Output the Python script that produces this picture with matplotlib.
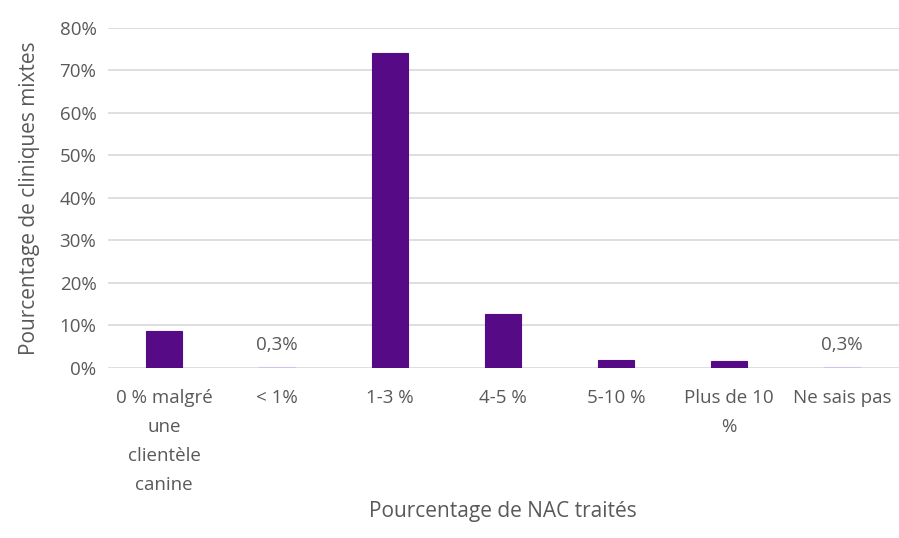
import numpy as np
import matplotlib.pyplot as plt
import matplotlib.ticker as mtick

# Data
categories = ["0 % malgré\nune\nclientèle\ncanine", "< 1%", "1-3 %", "4-5 %",
              "5-10 %", "Plus de 10\n%", "Ne sais pas"]
values = [0.086, 0.003, 0.742, 0.128, 0.018, 0.016, 0.003]
labelled = [False, True, False, False, False, False, True]

dark = "#560A86"
light = "#D3C2EC"
grey = "#595959"

plt.rcParams['font.family'] = ['Open Sans', 'DejaVu Sans']

fig = plt.figure(figsize=(8.99, 5.38), dpi=100)
ax = fig.add_axes([0.1196, 0.316, 0.88, 0.632])

x = np.arange(len(categories))
colors = [light if lab else dark for lab in labelled]
bars = ax.bar(x, values, width=0.32, color=colors, edgecolor=colors,
              linewidth=0.8, zorder=3)

for xi, v, lab in zip(x, values, labelled):
    if lab:
        ax.annotate(f"{v*100:.1f}%".replace(".", ","),
                    (xi, v), xytext=(0, 9), textcoords="offset points",
                    ha="center", va="bottom", fontsize=13.5, color=grey)

ax.set_xlim(-0.5, len(categories) - 0.5)
ax.set_ylim(0, 0.8)
ax.set_yticks(np.arange(0, 0.81, 0.1))
ax.yaxis.set_major_formatter(mtick.PercentFormatter(1.0, decimals=0))
ax.grid(axis="y", color="#D9D9D9", linewidth=1.2, zorder=0)

ax.set_xticks(x)
ax.set_xticklabels(categories, linespacing=1.8, va="top")
ax.tick_params(axis="both", length=0, labelsize=13.5, labelcolor=grey)
ax.tick_params(axis="x", pad=15)
ax.tick_params(axis="y", pad=8)

for s in ax.spines.values():
    s.set_visible(False)

ax.set_xlabel("Pourcentage de NAC traités", fontsize=15, color=grey, labelpad=5)
ax.set_ylabel("Pourcentage de cliniques mixtes", fontsize=15, color=grey, labelpad=14)

fig.savefig("out.png", dpi=100)
